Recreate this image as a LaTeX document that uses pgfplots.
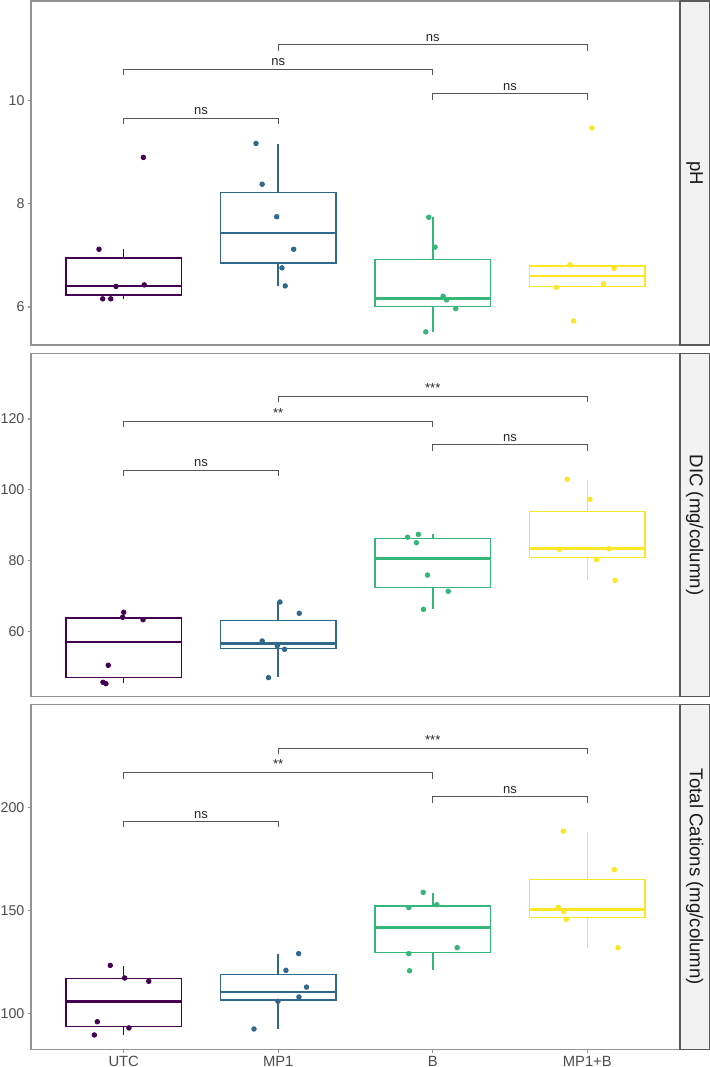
\documentclass[border=0pt]{standalone}
\usepackage{fontspec}
\setmainfont{Liberation Sans}
\usepackage{pgfplots}
\pgfplotsset{compat=1.18}
\usepgfplotslibrary{statistics}

\definecolor{cUTC}{HTML}{440154}
\definecolor{cMP}{HTML}{31688E}
\definecolor{cB}{HTML}{35B779}
\definecolor{cMPB}{HTML}{FDE725}
\definecolor{framegray}{HTML}{939393}
\definecolor{tickgray}{HTML}{4D4D4D}
\definecolor{brkgray}{HTML}{555555}
\definecolor{stripfill}{HTML}{F2F2F2}
\definecolor{stripline}{HTML}{5A5A5A}

\pgfplotsset{
  facet/.style={
    scale only axis, width=324.5pt,
    xmin=0.4, xmax=4.6,
    axis line style={draw=framegray, line width=0.75pt},
    tick style={draw=framegray, line width=0.6pt},
    tick align=outside, major tick length=1.6pt,
    xtick pos=left, ytick pos=left,
    ticklabel style={font=\fontsize{7.1}{8}\selectfont, text=tickgray},
    yticklabel style={inner sep=0pt, xshift=-1.5pt},
    /pgf/number format/assume math mode=true,
    clip=false,
    boxplot/draw direction=y,
    boxplot/box extend=0.75,
    boxplot/whisker extend=0,
    boxplot/every median/.style={line width=1.25pt},
  },
  brk/.style={draw=brkgray, line width=0.5pt, mark=none},
}
\tikzset{
  sig/.style={anchor=base, yshift=1.7pt, inner sep=0pt, font=\fontsize{6.5}{7}\selectfont, text=black!85},
}

% box: position, colour, lower whisker, lower quartile, median, upper quartile, upper whisker
\newcommand{\gbox}[7]{%
  \addplot[solid, mark=none, draw=#2, fill=white, line width=0.75pt,
    boxplot prepared={draw position=#1, lower whisker=#3, lower quartile=#4,
      median=#5, upper quartile=#6, upper whisker=#7}] coordinates {};
}
% jittered observations in one colour
\newcommand{\gpts}[2]{%
  \addplot[only marks, mark=*, mark size=1.15pt, color=#1, mark options={draw=#1, fill=#1}] coordinates {#2};
}
% significance bracket: x1, x2, level, tip, label position, label
\newcommand{\bracket}[6]{%
  \addplot[brk] coordinates {(#1,#4) (#1,#3) (#2,#3) (#2,#4)};
  \node[sig] at (axis cs:#5,#3) {#6};
}
\newcommand{\strip}[3]{% bottom, top, label
  \draw[fill=stripfill, draw=stripline, line width=0.6pt] (340pt,#1) rectangle (355pt,#2);
  \node[rotate=-90, font=\fontsize{9.3}{10}\selectfont, text=black!90] at (347.3pt,{(#1+#2)/2}) {#3};
}

\begin{document}
\begin{tikzpicture}
\path[use as bounding box] (0,-533.5pt) rectangle (354.5pt,0);

% ---------------- pH ----------------
\begin{axis}[facet, at={(15.5pt,-172.5pt)}, anchor=south west, height=172pt,
  ymin=5.265, ymax=11.93, ytick={6,8,10}, xtick=\empty]
\gbox{1}{cUTC}{6.16}{6.23}{6.41}{6.95}{7.12}
\gbox{2}{cMP}{6.41}{6.85}{7.44}{8.22}{9.16}
\gbox{3}{cB}{5.52}{6.01}{6.17}{6.92}{7.74}
\gbox{4}{cMPB}{6.38}{6.40}{6.60}{6.80}{6.82}
\gpts{cUTC}{(0.84,7.12) (1.127,8.90) (0.95,6.40) (1.133,6.43) (0.864,6.16) (0.916,6.16)}
\gpts{cMP}{(1.856,9.17) (1.896,8.38) (1.99,7.75) (2.10,7.12) (2.024,6.76) (2.045,6.41)}
\gpts{cB}{(2.974,7.74) (3.015,7.16) (3.067,6.21) (3.089,6.14) (3.149,5.97) (2.955,5.52)}
\gpts{cMPB}{(3.888,6.82) (4.173,6.75) (3.80,6.38) (4.106,6.45) (3.911,5.73) (4.03,9.47)}
\bracket{1}{2}{9.66}{9.55}{1.5}{ns}
\bracket{1}{3}{10.61}{10.49}{2}{ns}
\bracket{2}{4}{11.08}{10.96}{3}{ns}
\bracket{3}{4}{10.13}{10.02}{3.5}{ns}
\end{axis}
\strip{-172.5pt}{-0.5pt}{pH}

% ---------------- DIC ----------------
\begin{axis}[facet, at={(15.5pt,-348.35pt)}, anchor=south west, height=171.7pt,
  ymin=41.5, ymax=138.6, ytick={60,80,100,120}, xtick=\empty]
\gbox{1}{cUTC}{45.4}{46.9}{56.98}{63.76}{65.3}
\gbox{2}{cMP}{47.0}{55.08}{56.5}{63.0}{68.3}
\gbox{3}{cB}{66.3}{72.44}{80.53}{86.29}{87.4}
\gbox{4}{cMPB}{74.4}{80.92}{83.35}{93.92}{102.9}
\gpts{cUTC}{(1.0,65.37) (0.993,63.96) (1.125,63.29) (0.90,50.39) (0.866,45.58) (0.885,45.2)}
\gpts{cMP}{(2.011,68.28) (2.136,65.09) (1.896,57.26) (1.994,55.93) (2.041,54.9) (1.937,46.9)}
\gpts{cB}{(2.837,86.6) (2.907,87.4) (2.894,85.05) (2.966,75.9) (3.10,71.3) (2.94,66.2)}
\gpts{cMPB}{(3.87,102.97) (4.017,97.3) (3.82,83.18) (4.14,83.35) (4.06,80.24) (4.18,74.4)}
\bracket{1}{2}{105.6}{104.0}{1.5}{ns}
\bracket{1}{3}{119.45}{117.84}{2}{**}
\bracket{2}{4}{126.5}{124.8}{3}{***}
\bracket{3}{4}{112.75}{110.97}{3.5}{ns}
\end{axis}
\strip{-348.35pt}{-176.65pt}{DIC (mg/column)}

% ---------------- Total cations ----------------
\begin{axis}[facet, at={(15.5pt,-524.65pt)}, anchor=south west, height=172.3pt,
  ymin=82.75, ymax=249.7, ytick={100,150,200},
  xtick={1,2,3,4}, xticklabels={UTC,MP1,B,MP1+B},
  xticklabel style={font=\fontsize{7.4}{8}\selectfont, inner sep=1.5pt}]
\gbox{1}{cUTC}{89.8}{93.9}{106.0}{117.15}{123.3}
\gbox{2}{cMP}{92.8}{106.6}{110.5}{118.9}{128.9}
\gbox{3}{cB}{121.0}{129.7}{141.7}{152.3}{158.7}
\gbox{4}{cMPB}{132.0}{146.7}{150.6}{165.1}{188.1}
\gpts{cUTC}{(0.913,123.4) (1.006,117.3) (1.162,115.7) (0.829,96.1) (1.034,93.1) (0.81,89.7)}
\gpts{cMP}{(2.132,129.1) (2.05,121.0) (2.183,112.9) (2.134,108.1) (1.998,106.0) (1.843,92.6)}
\gpts{cB}{(2.938,158.8) (3.026,152.8) (2.845,151.4) (3.158,132.0) (2.845,129.1) (2.85,120.8)}
\gpts{cMPB}{(3.845,188.4) (4.175,169.8) (3.812,151.5) (3.847,149.4) (3.864,145.7) (4.199,132.0)}
\bracket{1}{2}{193.0}{190.3}{1.5}{ns}
\bracket{1}{3}{216.96}{213.9}{2}{**}
\bracket{2}{4}{228.7}{225.8}{3}{***}
\bracket{3}{4}{205.1}{202.2}{3.5}{ns}
\end{axis}
\strip{-524.65pt}{-352.35pt}{Total Cations (mg/column)}
\end{tikzpicture}
\end{document}
